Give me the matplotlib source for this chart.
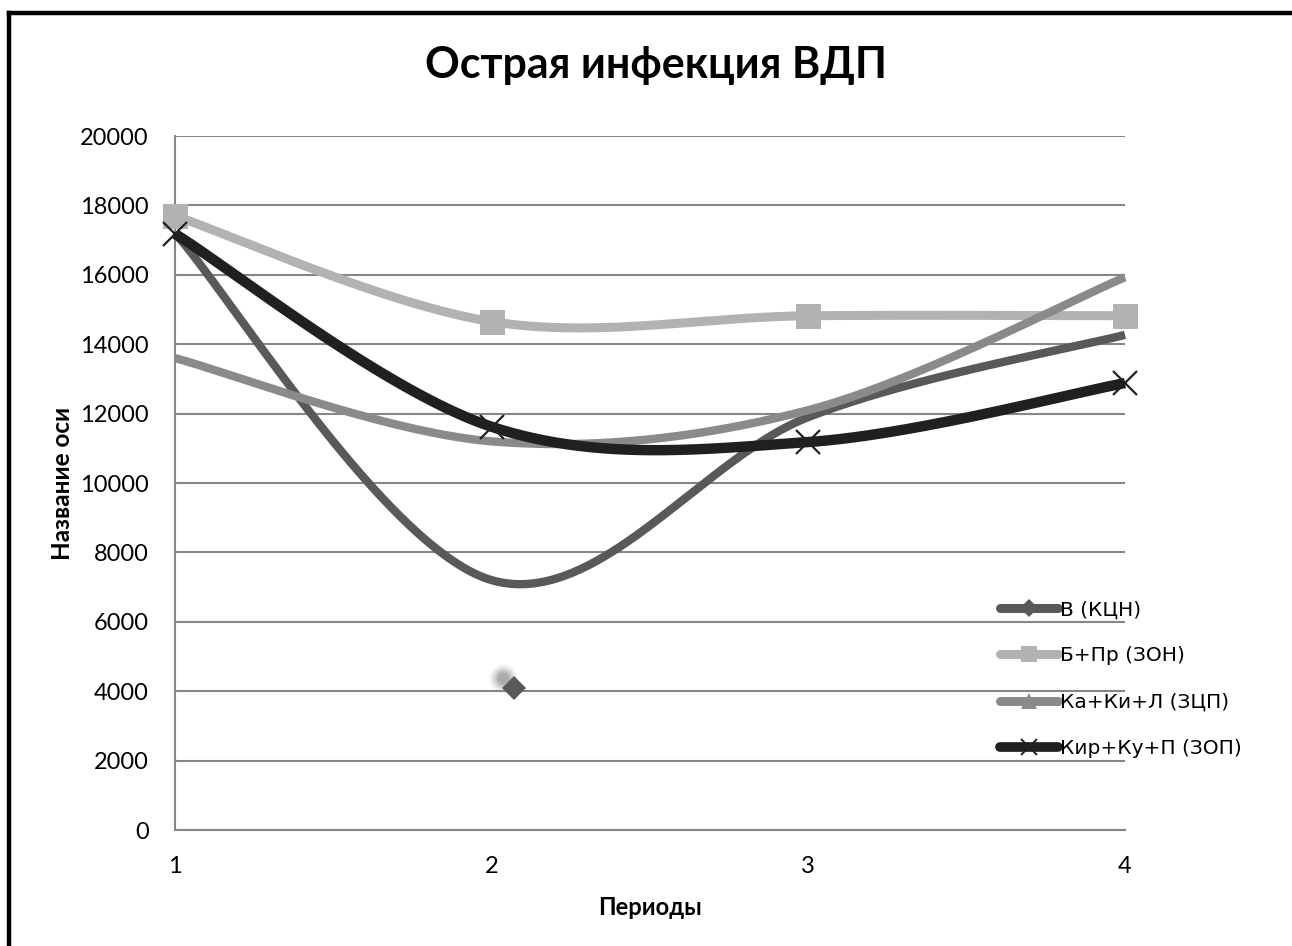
import numpy as np
import matplotlib
matplotlib.use("Agg")
import matplotlib.pyplot as plt
from matplotlib.lines import Line2D
from matplotlib.transforms import offset_copy

# Data
periods = [1, 2, 3, 4]
series_names = ["В (КЦН)", "Б+Пр (ЗОН)", "Ка+Ки+Л (ЗЦП)", "Кир+Ку+П (ЗОП)"]
v_kcn = [17200, 7200, 11900, 14270]
b_pr_zon = [17700, 14650, 14820, 14820]
ka_ki_l_zcp = [13600, 11200, 12100, 15930]
kir_ku_p_zop = [17180, 11620, 11180, 12880]
stray_x = [2.07]
stray_y = [4100]
y_ticks = [0, 2000, 4000, 6000, 8000, 10000, 12000, 14000, 16000, 18000, 20000]

title = "Острая инфекция ВДП"
x_label = "Периоды"
y_label = "Название оси"

colors = ["#595959", "#b2b2b2", "#8a8a8a", "#202020"]
widths = [6.0, 6.5, 6.0, 7.5]


def smooth(xs, ys, n=80):
    """Cardinal (Catmull-Rom) spline through the points, like Excel's smoothed lines."""
    xs = np.asarray(xs, float)
    ys = np.asarray(ys, float)
    k = len(xs)
    mx = np.empty(k)
    my = np.empty(k)
    for i in range(k):
        a = max(i - 1, 0)
        b = min(i + 1, k - 1)
        mx[i] = (xs[b] - xs[a]) / 2.0
        my[i] = (ys[b] - ys[a]) / 2.0
    out_x, out_y = [], []
    t = np.linspace(0, 1, n)
    h00 = 2 * t**3 - 3 * t**2 + 1
    h10 = t**3 - 2 * t**2 + t
    h01 = -2 * t**3 + 3 * t**2
    h11 = t**3 - t**2
    for i in range(k - 1):
        out_x.append(h00 * xs[i] + h10 * mx[i] + h01 * xs[i + 1] + h11 * mx[i + 1])
        out_y.append(h00 * ys[i] + h10 * my[i] + h01 * ys[i + 1] + h11 * my[i + 1])
    return np.concatenate(out_x), np.concatenate(out_y)


W, H = 1292, 946
fig = plt.figure(figsize=(W / 100, H / 100), dpi=100)
fig.patch.set_facecolor("white")

ax = fig.add_axes([175 / W, (H - 830) / H, (1125 - 175) / W, (830 - 136) / H])
ax.set_xlim(1, 4)
ax.set_ylim(0, 20000)

grid_color = "#868686"
for yv in y_ticks:
    ax.axhline(yv, color=grid_color, lw=1.5, zorder=1)
for side in ["top", "right"]:
    ax.spines[side].set_visible(False)
ax.spines["left"].set_color(grid_color)
ax.spines["left"].set_linewidth(1.5)
ax.spines["bottom"].set_color(grid_color)
ax.spines["bottom"].set_linewidth(1.5)

ax.set_xticks(periods)
ax.set_xticklabels([str(p) for p in periods])
ax.set_yticks(y_ticks)
ax.set_yticklabels([str(v) for v in y_ticks])
ax.tick_params(axis="both", length=0, labelsize=17)
ax.tick_params(axis="y", pad=19)
ax.tick_params(axis="x", pad=19)
for lab in ax.get_xticklabels() + ax.get_yticklabels():
    lab.set_fontfamily("Lato")

all_series = [v_kcn, b_pr_zon, ka_ki_l_zcp, kir_ku_p_zop]
for i, vals in enumerate(all_series):
    sx, sy = smooth(periods, vals)
    ax.plot(sx, sy, color=colors[i], lw=widths[i], solid_capstyle="butt",
            zorder=3 + i, clip_on=False)

# markers on the data points
ax.plot(periods, b_pr_zon, ls="none", marker="s", ms=18, mfc=colors[1],
        mec=colors[1], mew=0, zorder=4.5, clip_on=False)
ax.plot(periods, kir_ku_p_zop, ls="none", marker="x", ms=17, mec=colors[3],
        mew=1.6, zorder=7, clip_on=False)

# detached point of the first series with its soft shadow
shadow_tr = offset_copy(ax.transData, fig=fig, x=-11, y=10, units="dots")
for r, a in [(20, 0.10), (17, 0.15), (14, 0.2), (11, 0.28), (8, 0.35)]:
    ax.plot(stray_x, stray_y, ls="none", marker="o", ms=r, mfc="#8c8c8c",
            mec="none", alpha=a, transform=shadow_tr, zorder=7)
ax.plot(stray_x, stray_y, ls="none", marker="D", ms=12.5, mfc=colors[0],
        mec=colors[0], mew=0, zorder=8)

ax.set_xlabel(x_label, fontsize=17, fontweight="bold", family="Lato", va="center")
ax.xaxis.set_label_coords(0.5, (830 - 907) / (830 - 136))
ax.set_ylabel(y_label, fontsize=17.5, fontweight="bold", family="Lato", va="center")
ax.yaxis.set_label_coords((62 - 175) / (1125 - 175), 0.5)

fig.text(656 / W, 1 - 65 / H, title, ha="center", va="center",
         fontsize=31, fontweight="bold", family="Lato")

# legend
handles = [
    Line2D([], [], color=colors[0], lw=6.5, solid_capstyle="round", marker="D",
           ms=9, mfc=colors[0], mec=colors[0], mew=0),
    Line2D([], [], color=colors[1], lw=6.5, solid_capstyle="round", marker="s",
           ms=12, mfc=colors[1], mec=colors[1], mew=0),
    Line2D([], [], color=colors[2], lw=6.5, solid_capstyle="round", marker="^",
           ms=11, mfc=colors[2], mec=colors[2], mew=0),
    Line2D([], [], color=colors[3], lw=7, solid_capstyle="round", marker="x",
           ms=12, mec=colors[3], mew=1.4),
]
leg = ax.legend(handles, series_names, loc="center left",
                bbox_to_anchor=(1000 / W, 1 - 679 / H),
                bbox_transform=fig.transFigure, frameon=False,
                prop={"family": "DejaVu Sans", "size": 14.5},
                handlelength=2.9, handletextpad=0.1, labelspacing=1.35,
                borderpad=0, borderaxespad=0, numpoints=1)
leg.set_zorder(10)

# outer frame (top and left edges)
fig.add_artist(Line2D([9 / W, 9 / W], [0, 1 - 13.5 / H], color="black", lw=3.2,
                      transform=fig.transFigure, solid_capstyle="projecting"))
fig.add_artist(Line2D([9 / W, 1], [1 - 13.5 / H, 1 - 13.5 / H], color="black", lw=3.2,
                      transform=fig.transFigure, solid_capstyle="projecting"))

fig.savefig("out.png", dpi=100, facecolor="white")
